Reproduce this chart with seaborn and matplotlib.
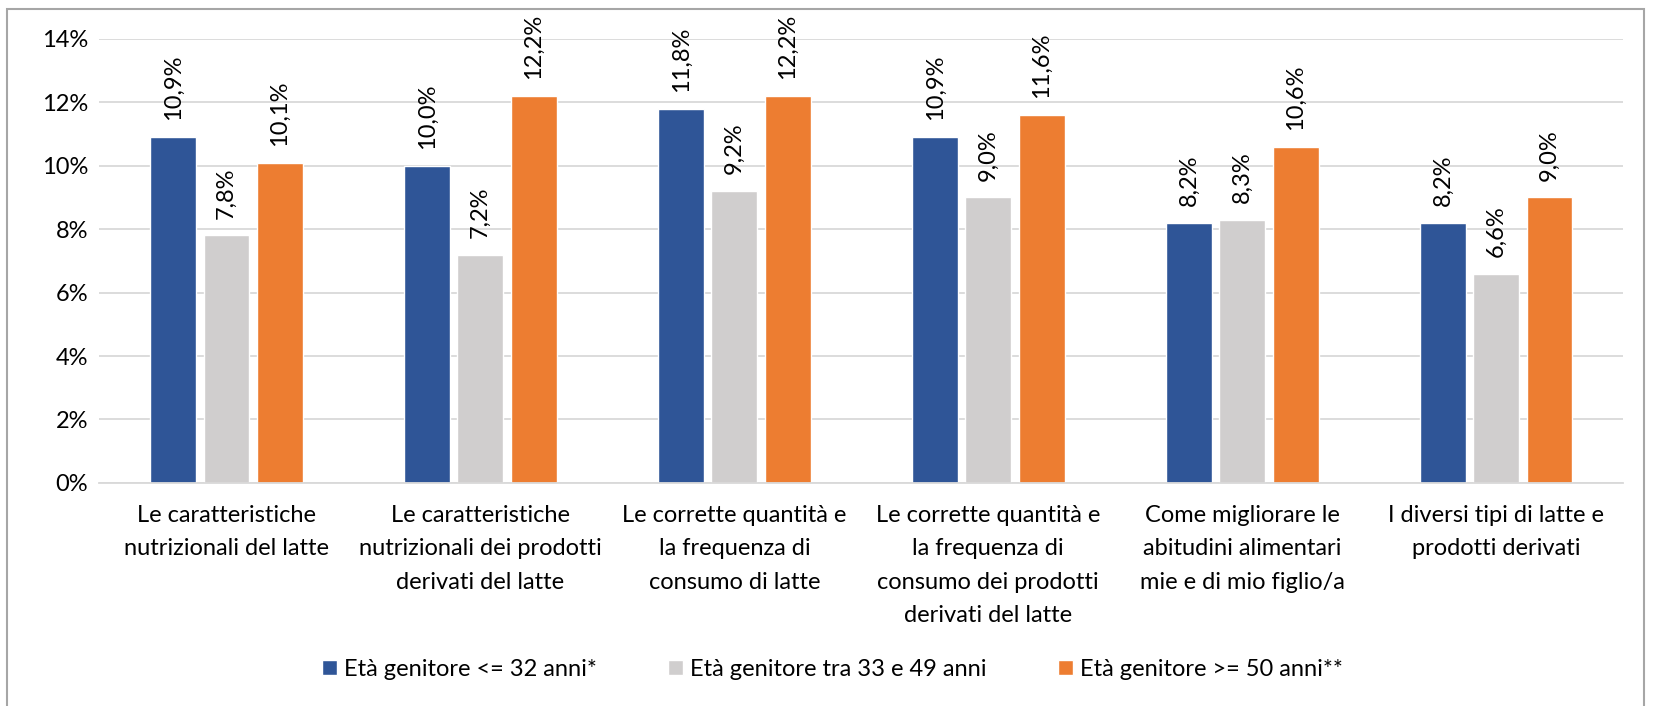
import matplotlib
matplotlib.use("Agg")
import pandas as pd
import matplotlib.pyplot as plt
import seaborn as sns
from matplotlib.patches import Rectangle

# Data
categories = [
    "Le caratteristiche\nnutrizionali del latte",
    "Le caratteristiche\nnutrizionali dei prodotti\nderivati del latte",
    "Le corrette quantità e\nla frequenza di\nconsumo di latte",
    "Le corrette quantità e\nla frequenza di\nconsumo dei prodotti\nderivati del latte",
    "Come migliorare le\nabitudini alimentari\nmie e di mio figlio/a",
    "I diversi tipi di latte e\nprodotti derivati",
]
groups = ["Età genitore <= 32 anni*", "Età genitore tra 33 e 49 anni", "Età genitore >= 50 anni**"]
young = [0.109, 0.100, 0.118, 0.109, 0.082, 0.082]
middle = [0.078, 0.072, 0.092, 0.090, 0.083, 0.066]
old = [0.101, 0.122, 0.122, 0.116, 0.106, 0.090]
colors = ["#2F5597", "#D0CECE", "#ED7D31"]

rows = []
for g, vals in zip(groups, [young, middle, old]):
    for c, v in zip(categories, vals):
        rows.append({"categoria": c, "gruppo": g, "valore": v})
df = pd.DataFrame(rows)

sns.set_style("white")
plt.rcParams["font.family"] = ["Lato", "DejaVu Sans"]
plt.rcParams["text.color"] = "black"

fig = plt.figure(figsize=(16.58, 7.06), dpi=100)
ax = fig.add_axes([0.060, 0.316, 0.919, 0.629])

sns.barplot(data=df, x="categoria", y="valore", hue="gruppo", palette=colors,
            saturation=1, width=0.63, gap=0.14, ax=ax, errorbar=None, legend=True)

# Data labels
for cont in ax.containers:
    labels = [f"{b.get_height()*100:.1f}%".replace(".", ",") for b in cont]
    ax.bar_label(cont, labels=labels, rotation=90, padding=12, fontsize=17, color="black")

ax.set_ylim(0, 0.14)
ax.set_yticks([i / 100 for i in range(0, 15, 2)])
ax.set_yticklabels([f"{i}%" for i in range(0, 15, 2)], fontsize=17, color="black")
ax.tick_params(axis="x", labelsize=17, labelcolor="black", length=0, pad=16)
ax.tick_params(axis="y", length=0, pad=8)
for t in ax.get_xticklabels():
    t.set_linespacing(1.72)
ax.set_xlabel("")
ax.set_ylabel("")
ax.grid(axis="y", color="#D9D9D9", linewidth=1.3)
ax.set_axisbelow(True)
for s in ["left", "right", "top"]:
    ax.spines[s].set_visible(False)
ax.spines["bottom"].set_color("#D9D9D9")
ax.spines["bottom"].set_linewidth(1.3)
ax.set_xlim(-0.5, len(categories) - 0.5)

leg = ax.legend(loc="center", bbox_to_anchor=(0.502, 0.052), bbox_transform=fig.transFigure,
                ncol=3, frameon=False, fontsize=17, handlelength=0.65, handleheight=0.65,
                handletextpad=0.3, columnspacing=3.0)

# Outer border
fig.patches.append(Rectangle((7 / 1658, -0.01), (1644 - 7) / 1658, 1 - 9 / 706 + 0.01,
                             transform=fig.transFigure, fill=False,
                             edgecolor="#A6A6A6", linewidth=1.5))

plt.savefig("out.png", dpi=100)
plt.close()
